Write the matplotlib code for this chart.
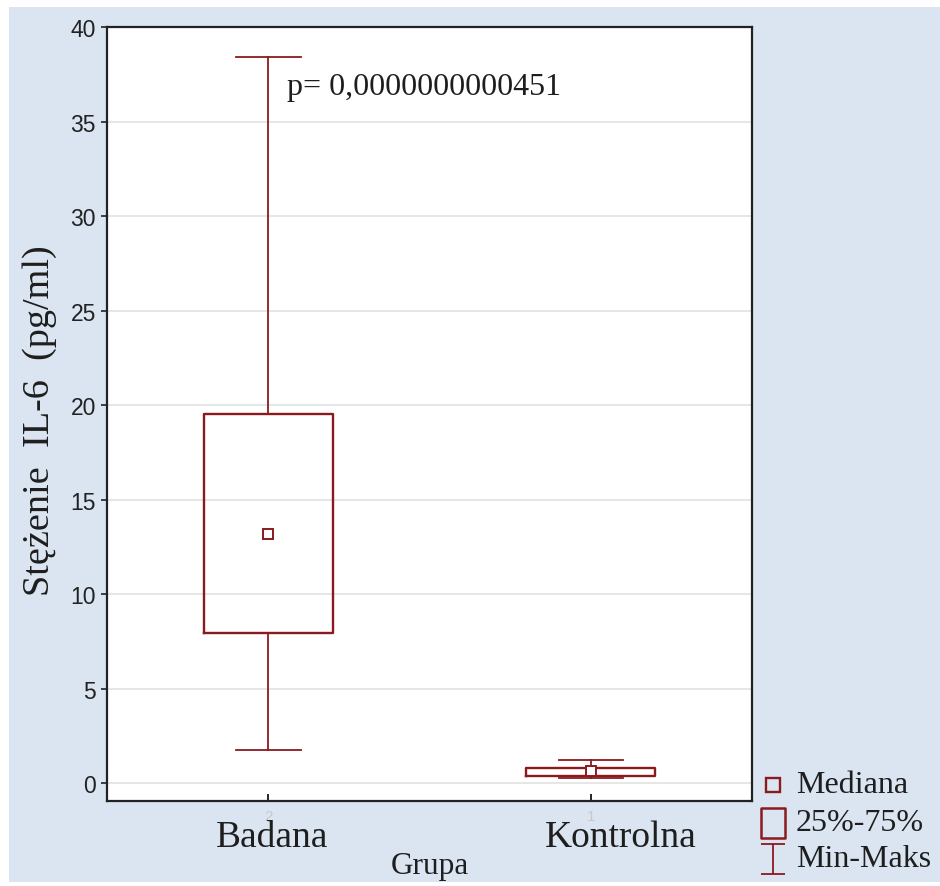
import numpy as np
import matplotlib
matplotlib.use('Agg')
import matplotlib.pyplot as plt
from matplotlib.patches import Rectangle
from matplotlib.lines import Line2D
from matplotlib.path import Path

# data
groups = ['Badana', 'Kontrolna']
codes = ['2', '1']
med = [13.2, 0.63]
q1 = [7.95, 0.37]
q3 = [19.5, 0.80]
mins = [1.75, 0.26]
maxs = [38.4, 1.22]
p_text = 'p= 0,0000000000451'
legend_labels = ['Mediana', '25%-75%', 'Min-Maks']

RED = '#8B1A1F'
BG = '#DAE5F1'
TXT = '#1E1E1E'
SERIF = 'Liberation Serif'
SANS = 'Liberation Sans'
W, H = 940, 887


def fx(px):
    return px / W


def fy(py):
    return 1 - py / H


fig = plt.figure(figsize=(9.4, 8.87), dpi=100, facecolor='white')
fig.patches.append(Rectangle((fx(9), fy(883)), fx(931), 875 / H,
                             transform=fig.transFigure, facecolor=BG,
                             edgecolor='none', zorder=-10))

ax = fig.add_axes([fx(107), 85 / H, 645 / W, 774 / H])
ax.set_facecolor('white')

stats = []
for i in range(len(groups)):
    stats.append({'med': med[i], 'q1': q1[i], 'q3': q3[i],
                  'whislo': mins[i], 'whishi': maxs[i],
                  'mean': med[i], 'fliers': []})

pos = np.arange(1, len(groups) + 1)
ax.bxp(stats, positions=pos, widths=0.4, capwidths=0.2,
       showmeans=True, showfliers=False, patch_artist=False,
       boxprops=dict(color=RED, linewidth=1.7),
       whiskerprops=dict(color=RED, linewidth=1.3),
       capprops=dict(color=RED, linewidth=1.3),
       medianprops=dict(linestyle='none'),
       meanprops=dict(marker='s', markersize=7.5, markerfacecolor='white',
                      markeredgecolor=RED, markeredgewidth=1.4, linestyle='none'),
       zorder=3)

ax.set_xlim(0.5, 2.5)
ax.set_ylim(-0.95, 40)
ax.set_yticks(np.arange(0, 41, 5))
ax.yaxis.grid(True, color='#E2E2E2', linewidth=1.2, zorder=0)
ax.set_axisbelow(True)

for s in ax.spines.values():
    s.set_linewidth(1.6)
    s.set_color('#222222')

ax.tick_params(axis='y', direction='out', length=4, width=1.2,
               labelsize=16.5, colors='#222222', pad=4)
for lab in ax.get_yticklabels():
    lab.set_fontfamily(SANS)

ax.set_xticks(pos)
ax.set_xticklabels(codes, fontsize=11, color='#C8C8C8', fontfamily=SANS)
ax.tick_params(axis='x', direction='in', length=5, width=1.2, pad=6)

# group names under the faint category codes
for xc, g in zip([272, 621], groups):
    fig.text(fx(xc), fy(838), g, ha='center', va='center',
             fontsize=27, fontfamily=SERIF, color=TXT)

fig.text(fx(430), fy(867), 'Grupa', ha='center', va='center',
         fontsize=22.5, fontfamily=SERIF, color=TXT)
fig.text(fx(40), fy(421), 'Stężenie  IL-6  (pg/ml)', rotation=90,
         ha='center', va='center', fontsize=27.5, fontfamily=SERIF, color=TXT)

fig.text(fx(287), fy(88), p_text, ha='left', va='center',
         fontsize=23, fontfamily=SERIF, color=TXT)

# legend, drawn by hand to place it like the original
rect = Path([(-0.4, -0.5), (0.4, -0.5), (0.4, 0.5), (-0.4, 0.5), (-0.4, -0.5)],
            [Path.MOVETO, Path.LINETO, Path.LINETO, Path.LINETO, Path.CLOSEPOLY])
minmax = Path([(-0.41, 0.5), (0.41, 0.5), (0, 0.5), (0, -0.5), (-0.41, -0.5), (0.41, -0.5)],
              [Path.MOVETO, Path.LINETO, Path.MOVETO, Path.LINETO,
               Path.MOVETO, Path.LINETO])
leg_markers = [('s', 10.5, 1.7), (rect, 21, 1.8), (minmax, 21, 1.3)]
leg_y = [786, 824, 860]
for (mk, ms, mew), yy, lab in zip(leg_markers, leg_y, legend_labels):
    fig.add_artist(Line2D([fx(773)], [fy(yy)], transform=fig.transFigure,
                          linestyle='none', marker=mk, markersize=ms,
                          markerfacecolor='none', markeredgecolor=RED,
                          markeredgewidth=mew))
    fig.text(fx(796), fy(yy), lab, ha='left', va='center',
             fontsize=23, fontfamily=SERIF, color=TXT)

fig.savefig('out.png', dpi=100, facecolor='white')
